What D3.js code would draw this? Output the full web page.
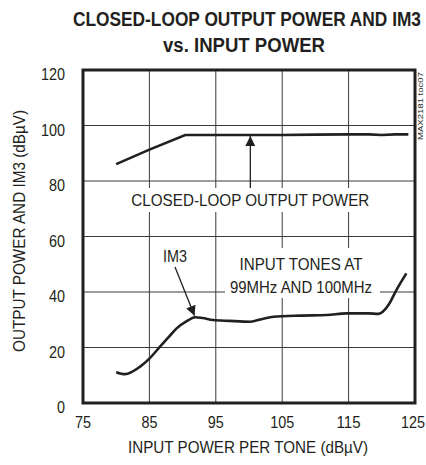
<!DOCTYPE html>
<html>
<head>
<meta charset="utf-8">
<script src="https://cdn.jsdelivr.net/npm/d3@7"></script>
<style>
  body { margin: 0; background: #fff; }
  text { font-family: "Liberation Sans", Arial, sans-serif; fill: #231f20; }
  .narrow { font-family: "Liberation Sans Narrow", "Arial Narrow", "Liberation Sans", Arial, sans-serif; }
</style>
</head>
<body>
<svg id="chart" width="426" height="465"></svg>
<script>
// data
const xTicks = [75, 85, 95, 105, 115, 125];
const yTicks = [0, 20, 40, 60, 80, 100, 120];

const outX = [80, 85, 90.4, 95, 100, 105, 110, 115, 118, 120, 122, 124];
const outY = [86.1, 91.3, 96.6, 96.6, 96.6, 96.6, 96.7, 96.8, 96.8, 96.6, 96.8, 96.8];

const im3X = [80, 81.3, 83.6, 85, 86.6, 88, 89.1, 90.5, 91.9, 93, 94.6, 97, 100.2, 102, 103.7, 107.7, 111.7, 114.7, 118, 119.5, 121, 122.2, 123.7];
const im3Y = [11.1, 10.4, 13.1, 16, 20.3, 24, 26.9, 29.3, 30.9, 30.6, 29.9, 29.6, 29.3, 30.3, 31.1, 31.5, 31.7, 32.3, 32.3, 32.1, 35.3, 40.7, 46.7];

const svg = d3.select("#chart");
const mLeft = 83, mRight = 415, mTop = 70, mBottom = 403;

const x = d3.scaleLinear().domain([75, 125]).range([mLeft, mRight]);
const y = d3.scaleLinear().domain([0, 120]).range([mBottom, mTop]);

// title
svg.append("text").attr("class", "narrow")
  .attr("transform", "translate(247,26) scale(1,1.1)").attr("text-anchor", "middle")
  .attr("font-size", 18).attr("font-weight", "bold")
  .attr("textLength", 348).attr("lengthAdjust", "spacingAndGlyphs")
  .text("CLOSED-LOOP OUTPUT POWER AND IM3");
svg.append("text").attr("class", "narrow")
  .attr("transform", "translate(244,52) scale(1,1.1)").attr("text-anchor", "middle")
  .attr("font-size", 18).attr("font-weight", "bold")
  .attr("textLength", 162).attr("lengthAdjust", "spacingAndGlyphs")
  .text("vs. INPUT POWER");

// grid
let grid = svg.append("g").attr("stroke", "#3a3a3a").attr("stroke-width", 1);
grid.selectAll("line.v").data(xTicks.slice(1, -1)).enter().append("line")
  .attr("x1", d => x(d)).attr("x2", d => x(d))
  .attr("y1", mTop).attr("y2", mBottom);
grid.selectAll("line.h").data(yTicks.slice(1, -1)).enter().append("line")
  .attr("x1", mLeft).attr("x2", mRight)
  .attr("y1", d => y(d)).attr("y2", d => y(d));

// tick labels
const tw = d => String(d).length * 8;
svg.append("g").selectAll("text").data(yTicks).enter().append("text")
  .attr("x", 65).attr("y", d => y(d) + 10)
  .attr("text-anchor", "end").attr("font-size", 16)
  .attr("textLength", tw).attr("lengthAdjust", "spacingAndGlyphs")
  .text(d => d);
svg.append("g").selectAll("text").data(xTicks).enter().append("text")
  .attr("x", d => Math.min(x(d), 425 - tw(d) / 2)).attr("y", 428)
  .attr("text-anchor", "middle").attr("font-size", 16)
  .attr("textLength", tw).attr("lengthAdjust", "spacingAndGlyphs")
  .text(d => d);

// axis titles
svg.append("text")
  .attr("x", 248).attr("y", 453).attr("text-anchor", "middle")
  .attr("font-size", 17)
  .attr("textLength", 240).attr("lengthAdjust", "spacingAndGlyphs")
  .text("INPUT POWER PER TONE (dBµV)");
svg.append("text")
  .attr("transform", "translate(25,231) rotate(-90)")
  .attr("text-anchor", "middle").attr("font-size", 17)
  .attr("textLength", 242).attr("lengthAdjust", "spacingAndGlyphs")
  .text("OUTPUT POWER AND IM3 (dBµV)");

// watermark
svg.append("text")
  .attr("transform", "translate(423,106) rotate(-90)")
  .attr("text-anchor", "middle").attr("font-size", 8)
  .attr("textLength", 68).attr("lengthAdjust", "spacingAndGlyphs")
  .text("MAX2181 toc07");

// curves
const line = d3.line().x(d => x(d[0])).y(d => y(d[1])).curve(d3.curveMonotoneX);
svg.append("path").datum(d3.zip(outX, outY))
  .attr("d", d3.line().x(d => x(d[0])).y(d => y(d[1])))
  .attr("fill", "none").attr("stroke", "#231f20").attr("stroke-width", 2.6);
svg.append("path").datum(d3.zip(im3X, im3Y))
  .attr("d", line)
  .attr("fill", "none").attr("stroke", "#231f20").attr("stroke-width", 2.6);

// annotations
function label(lines, cx, cy, box) {
  svg.append("rect")
    .attr("x", box[0]).attr("y", box[1]).attr("width", box[2]).attr("height", box[3])
    .attr("fill", "#fff");
  lines.forEach((t, i) => {
    svg.append("text")
      .attr("x", cx).attr("y", cy + i * 23).attr("text-anchor", "middle")
      .attr("font-size", 17).attr("textLength", t[1]).attr("lengthAdjust", "spacingAndGlyphs")
      .text(t[0]);
  });
}
label([["CLOSED-LOOP OUTPUT POWER", 238]], x(100.2), 206, [127, 188, 248, 24]);
label([["INPUT TONES AT", 123], ["99MHz AND 100MHz", 142]], 301, 270, [225, 248, 155, 50]);
label([["IM3", 24]], 175, 262, [160, 246, 30, 20]);

// arrows
svg.append("defs").append("marker")
  .attr("id", "head").attr("viewBox", "0 0 10 10")
  .attr("refX", 10).attr("refY", 5)
  .attr("markerWidth", 14).attr("markerHeight", 10)
  .attr("markerUnits", "userSpaceOnUse")
  .attr("orient", "auto")
  .append("path").attr("d", "M0,0 L10,5 L0,10 Z").attr("fill", "#231f20");

svg.append("line")
  .attr("x1", x(100.2)).attr("y1", 188)
  .attr("x2", x(100.2)).attr("y2", y(96.2))
  .attr("stroke", "#231f20").attr("stroke-width", 1.3)
  .attr("marker-end", "url(#head)");
svg.append("line")
  .attr("x1", 175).attr("y1", 267)
  .attr("x2", x(91.8)).attr("y2", y(31.4))
  .attr("stroke", "#231f20").attr("stroke-width", 1.3)
  .attr("marker-end", "url(#head)");

// frame
svg.append("rect")
  .attr("x", mLeft).attr("y", mTop).attr("width", mRight - mLeft).attr("height", mBottom - mTop)
  .attr("fill", "none").attr("stroke", "#231f20").attr("stroke-width", 3);
</script>
</body>
</html>
